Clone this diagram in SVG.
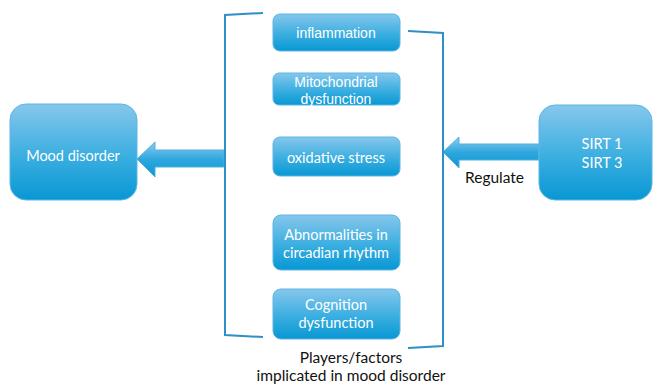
<svg xmlns="http://www.w3.org/2000/svg" width="660" height="384" viewBox="0 0 660 384">
<defs>
<linearGradient id="g" x1="0" y1="0" x2="0" y2="1">
<stop offset="0" stop-color="#86c7ec"/>
<stop offset="0.55" stop-color="#3aaee0"/>
<stop offset="1" stop-color="#0897d4"/>
</linearGradient>
<linearGradient id="ga" x1="0" y1="0" x2="0" y2="1">
<stop offset="0" stop-color="#8ccbee"/>
<stop offset="0.5" stop-color="#2ea7de"/>
<stop offset="1" stop-color="#0a97d3"/>
</linearGradient>
<style>
.box{fill:url(#g);stroke:#5db6e4;stroke-width:1}
.arr{fill:url(#ga);stroke:#4fb0e0;stroke-width:1}
.t{fill:#fff;font-family:"Lato","Liberation Sans",sans-serif;font-size:14.5px;text-anchor:middle}
.ta{fill:#fff;font-family:"Liberation Sans",Arial,sans-serif;font-size:14px;text-anchor:middle}
.lbl{fill:#111;font-family:"Lato","Liberation Sans",sans-serif;font-size:15.5px}
.br{fill:none;stroke:#2f8fc6;stroke-width:2}
</style>
</defs>
<g id="connectors">
<path class="arr" d="M137,159 L155,142 L155,150 L224,150 L224,167 L155,167 L155,177 Z"/>
<path class="arr" d="M443,152 L459,137 L459,144 L539,144 L539,160 L459,160 L459,168 Z"/>
<path class="br" d="M263,13 L225,15 L225,335 L263,337"/>
<path class="br" d="M408,31 L443,33 L443,346 L408,348"/>
</g>
<g id="mood">
<rect class="box" x="10" y="104" width="127" height="96" rx="16"/>
<text class="t" x="73" y="161" font-size="16.5">Mood disorder</text>
</g>
<g id="inflammation">
<rect class="box" x="273" y="14" width="127" height="37" rx="7"/>
<text class="ta" x="336" y="38">inflammation</text>
</g>
<g id="mito">
<rect class="box" x="273" y="73" width="127" height="32" rx="6"/>
<text class="ta" x="336" y="87" font-size="13">Mitochondrial</text>
<text class="ta" x="336" y="104" font-size="13">dysfunction</text>
</g>
<g id="oxidative">
<rect class="box" x="273" y="137" width="127" height="39" rx="7"/>
<text class="t" x="336" y="163">oxidative stress</text>
</g>
<g id="circadian">
<rect class="box" x="273" y="215" width="127" height="55" rx="8"/>
<text class="t" x="336" y="240">Abnormalities  in</text>
<text class="t" x="336" y="258">circadian rhythm</text>
</g>
<g id="cognition">
<rect class="box" x="273" y="289" width="127" height="50" rx="8"/>
<text class="t" x="336" y="310">Cognition</text>
<text class="t" x="336" y="328">dysfunction</text>
</g>
<g id="sirt">
<rect class="box" x="539" y="105" width="113" height="95" rx="16"/>
<text class="t" x="602" y="149" font-size="15">SIRT 1</text>
<text class="t" x="602" y="168" font-size="15">SIRT 3</text>
</g>
<g id="labels">
<text class="lbl" x="465" y="183" font-size="15">Regulate</text>
<text class="lbl" x="351" y="363" text-anchor="middle">Players/factors</text>
<text class="lbl" x="351" y="381" text-anchor="middle">implicated in mood disorder</text>
</g>
</svg>
